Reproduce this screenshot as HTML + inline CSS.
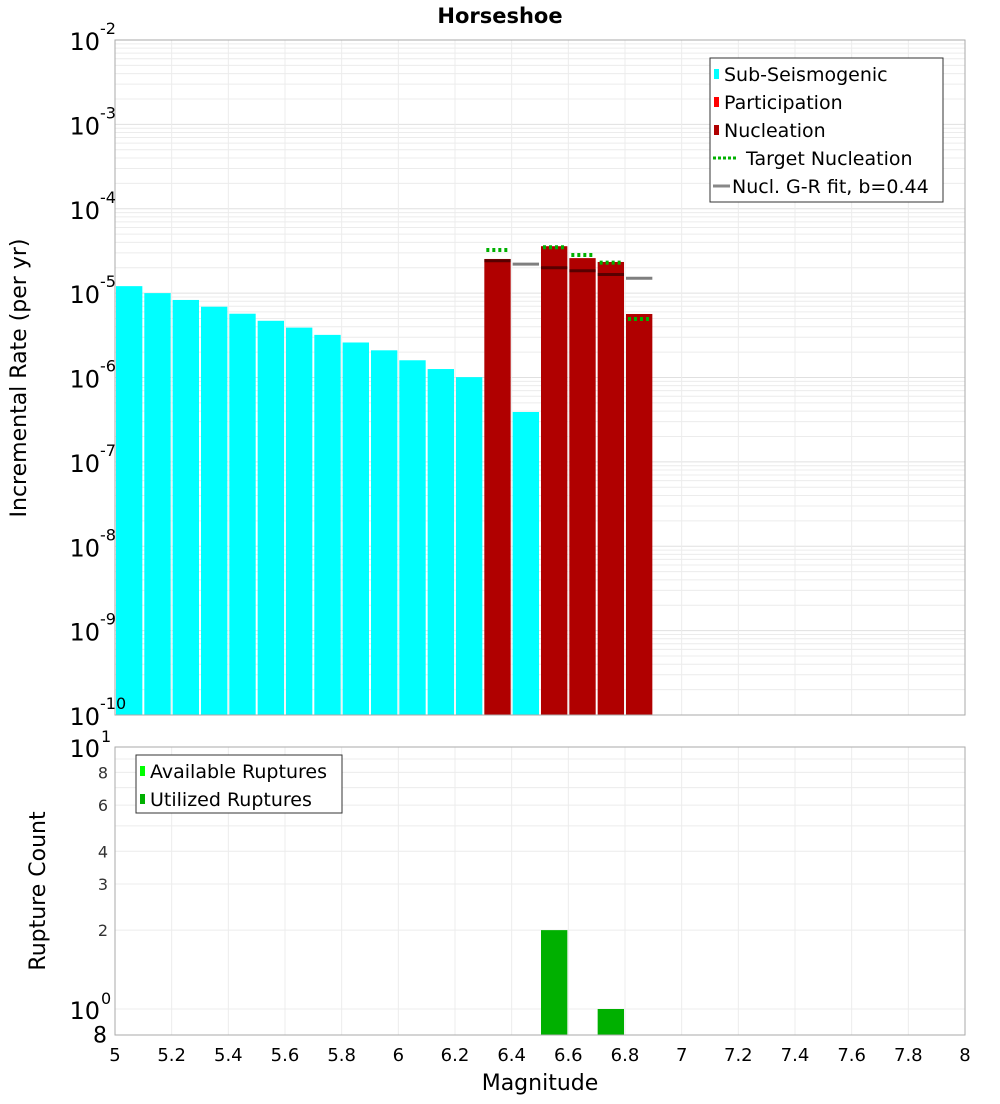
<!DOCTYPE html>
<html><head><meta charset="utf-8"><style>
body{margin:0;background:#fff;font-family:"DejaVu Sans","Liberation Sans",sans-serif}
svg text{font-family:"DejaVu Sans","Liberation Sans",sans-serif}
</style></head><body>
<svg id="c" width="1000" height="1100" xmlns="http://www.w3.org/2000/svg">
<text x="500" y="23" text-anchor="middle" font-size="21" font-weight="bold">Horseshoe</text>
<g id="top"></g>
<g id="bot"></g>
<text transform="translate(26,378) rotate(-90)" text-anchor="middle" font-size="22">Incremental Rate (per yr)</text>
<text transform="translate(45,891) rotate(-90)" text-anchor="middle" font-size="22">Rupture Count</text>
<text x="540" y="1090" text-anchor="middle" font-size="22">Magnitude</text>
</svg>
<script>
const subMags=[5.05,5.15,5.25,5.35,5.45,5.55,5.65,5.75,5.85,5.95,6.05,6.15,6.25,6.45];
const subRates=[1.21e-5,1.0e-5,8.3e-6,6.9e-6,5.7e-6,4.7e-6,3.9e-6,3.2e-6,2.6e-6,2.1e-6,1.6e-6,1.26e-6,1.01e-6,3.9e-7];
const nuclMags=[6.35,6.55,6.65,6.75,6.85];
const nuclRates=[2.54e-5,3.6e-5,2.6e-5,2.34e-5,5.66e-6];
const targetRates=[3.24e-5,3.5e-5,2.83e-5,2.3e-5,4.93e-6];
const grMags=[6.35,6.45,6.55,6.65,6.75,6.85];
const grRates=[2.42e-5,2.21e-5,2.0e-5,1.84e-5,1.66e-5,1.5e-5];
const countMags=[6.55,6.75];
const countVals=[2,1];
const xTicks=[5,5.2,5.4,5.6,5.8,6,6.2,6.4,6.6,6.8,7,7.2,7.4,7.6,7.8,8];

const NS="http://www.w3.org/2000/svg";
const svg=document.getElementById('c');
const top_=document.getElementById('top'), bot=document.getElementById('bot');
function mk(p,t,a){const e=document.createElementNS(NS,t);for(const k in a)e.setAttribute(k,a[k]);p.appendChild(e);return e;}
const X0=115,X1=965;
const xs=m=>X0+(m-5)/3*(X1-X0);
const T0=40,T1=715;
const ys=v=>T0+(-2-Math.log10(v))*(T1-T0)/8;
const B0=747,B1=1035;
const yb=v=>B0+(1-Math.log10(v))*262;
const bw=0.093;

// top grid
for(let d=-10;d<-2;d++)for(let k=1;k<10;k++){const y=ys(k*Math.pow(10,d));mk(top_,'line',{x1:X0,x2:X1,y1:y,y2:y,stroke:k==1?'#e0e0e0':'#ececec','stroke-width':1});}
xTicks.forEach(t=>{const x=xs(t);mk(top_,'line',{x1:x,x2:x,y1:T0,y2:T1,stroke:'#ececec'});mk(bot,'line',{x1:x,x2:x,y1:B0,y2:B1,stroke:'#ececec'});});
[1,2,3,4,5,6,7,8,9,10].forEach(v=>{const y=yb(v);mk(bot,'line',{x1:X0,x2:X1,y1:y,y2:y,stroke:'#ececec'});});
// top y labels
for(let d=-10;d<=-2;d++){const y=ys(Math.pow(10,d));const t=mk(svg,'text',{x:100,y:y+10,'text-anchor':'end','font-size':24});t.textContent='10';const s=mk(svg,'text',{x:100,y:y-6,'font-size':16});s.textContent=String(d);}
// bars
subMags.forEach((m,i)=>{const r=mk(top_,'rect',{x:xs(m-bw/2),y:ys(subRates[i]),width:xs(m+bw/2)-xs(m-bw/2),height:T1-ys(subRates[i]),fill:'#00ffff'});});
nuclMags.forEach((m,i)=>{const r=mk(top_,'rect',{x:xs(m-bw/2),y:ys(nuclRates[i]),width:xs(m+bw/2)-xs(m-bw/2),height:T1-ys(nuclRates[i]),fill:'#b00000'});});
grMags.forEach((m,i)=>{const y=ys(grRates[i]);const l=mk(top_,'line',{x1:xs(m-bw/2),x2:xs(m+bw/2),y1:y,y2:y,stroke:'#000','stroke-opacity':0.5,'stroke-width':3});});
nuclMags.forEach((m,i)=>{const y=ys(targetRates[i]);const l=mk(top_,'line',{x1:xs(m-bw/2)+2,x2:xs(m+bw/2)-2,y1:y,y2:y,stroke:'#00b000','stroke-width':4,'stroke-dasharray':'3,3'});});
mk(top_,'rect',{x:X0,y:T0,width:X1-X0,height:T1-T0,fill:'none',stroke:'#aaa'});
// bottom
countMags.forEach((m,i)=>{const r=mk(bot,'rect',{x:xs(m-bw/2),y:yb(countVals[i]),width:xs(m+bw/2)-xs(m-bw/2),height:B1-yb(countVals[i]),fill:'#00b000'});});
mk(bot,'rect',{x:X0,y:B0,width:X1-X0,height:B1-B0,fill:'none',stroke:'#aaa'});
[[10,'10','1'],[1,'10','0']].forEach(([v,b,e])=>{const y=yb(v);const t=mk(svg,'text',{x:100,y:y+10,'text-anchor':'end','font-size':24});t.textContent=b;const s=mk(svg,'text',{x:101,y:y-5,'font-size':16});s.textContent=e;});
[[8,'8'],[6,'6'],[4,'4'],[3,'3'],[2,'2']].forEach(([v,l])=>{const t=mk(svg,'text',{x:108,y:yb(v)+6,'text-anchor':'end','font-size':16,fill:'#333'});t.textContent=l;});
{const t=mk(svg,'text',{x:107,y:yb(0.8)+8,'text-anchor':'end','font-size':22});t.textContent='8';}
xTicks.forEach(v=>{const t=mk(svg,'text',{x:xs(v),y:1061,'text-anchor':'middle','font-size':18});t.textContent=String(v);});
// legends
function legend(p,x,y,w,h,items,name){const g=mk(p,'g',{});mk(g,'rect',{x:x,y:y,width:w,height:h,fill:'#fff',stroke:'#333'});
items.forEach((it,i)=>{const cy=y+15+i*28;
if(it[1]=='box')mk(g,'rect',{x:x+4,y:cy-4,width:5,height:10,fill:it[2]});
else if(it[1]=='dot')mk(g,'line',{x1:x+3,x2:x+26,y1:cy+1,y2:cy+1,stroke:it[2],'stroke-width':3,'stroke-dasharray':'3,2'});
else mk(g,'line',{x1:x+3,x2:x+20,y1:cy+1,y2:cy+1,stroke:it[2],'stroke-width':3});
const t=mk(g,'text',{x:x+it[3],y:cy+8,'font-size':19});t.textContent=it[0];});}
legend(svg,710,58,233,144,[['Sub-Seismogenic','box','#00ffff',14],['Participation','box','#ff0000',14],['Nucleation','box','#b00000',14],['Target Nucleation','dot','#00b000',36],['Nucl. G-R fit, b=0.44','line','#888',22]],'rate-legend');
legend(svg,136,755,206,58,[['Available Ruptures','box','#00ff00',14],['Utilized Ruptures','box','#00b000',14]],'count-legend');
</script>
</body></html>
